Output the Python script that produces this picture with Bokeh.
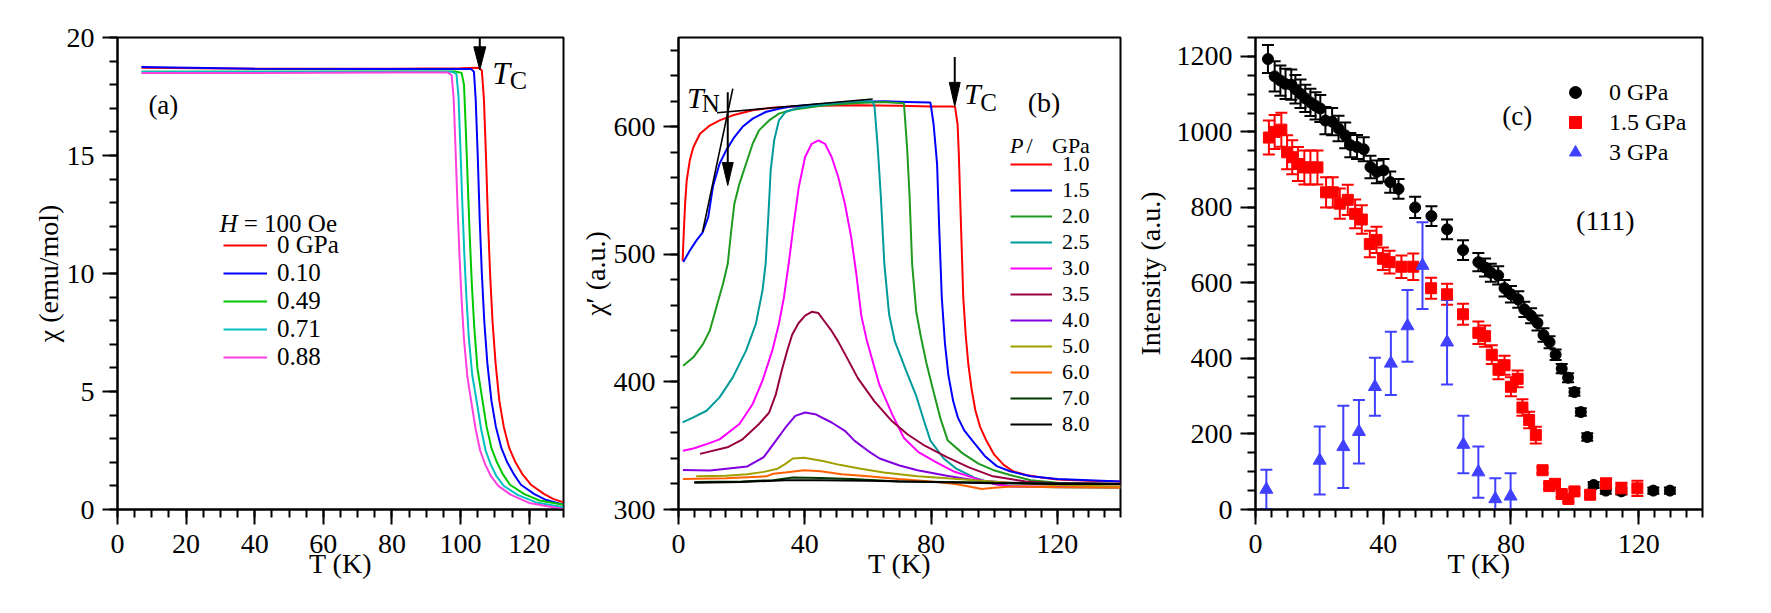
from bokeh.plotting import figure
from bokeh.layouts import row
from bokeh.models import (Range1d, FixedTicker, Label, Legend, LegendItem, Whisker,
                          ColumnDataSource, TeeHead)
from bokeh.embed import file_html
from bokeh.resources import INLINE

FONT = "Liberation Serif"
AXFONT = "Liberation Serif, DejaVu Serif"

a_labels = ["0 GPa", "0.10", "0.49", "0.71", "0.88"]
a_colors = ["#ff0000", "#0000ff", "#00c800", "#00c0c0", "#ff40e0"]
a_T_000 = [7, 40, 80, 100, 105.3, 106.2, 106.8, 107.4, 108.0, 108.6, 109.3, 110.2, 111.3, 112.6, 114.2, 116.0, 118.0, 120.5, 124.4, 127.0, 130.0]
a_chi_000 = [18.72, 18.68, 18.68, 18.70, 18.72, 18.60, 17.40, 15.00, 12.20, 10.00, 8.00, 6.20, 4.60, 3.50, 2.60, 2.00, 1.50, 1.05, 0.65, 0.45, 0.30]
a_T_010 = [7, 40, 80, 100, 103.1, 103.9, 104.4, 105.0, 105.6, 106.2, 106.9, 107.8, 109.0, 110.3, 111.9, 113.6, 115.5, 117.6, 121.5, 125.0, 130.0]
a_chi_010 = [18.75, 18.68, 18.66, 18.66, 18.66, 18.55, 17.40, 15.00, 12.20, 10.00, 8.00, 6.20, 4.60, 3.50, 2.60, 2.00, 1.50, 1.05, 0.65, 0.40, 0.20]
a_T_049 = [7, 40, 80, 98.5, 100.3, 101.0, 101.5, 102.1, 102.7, 103.3, 104.0, 104.9, 106.4, 107.6, 109.0, 110.6, 112.3, 114.4, 118.6, 123.0, 130.0]
a_chi_049 = [18.55, 18.55, 18.56, 18.56, 18.50, 18.00, 16.20, 13.80, 11.50, 9.50, 7.70, 6.00, 4.60, 3.50, 2.60, 2.00, 1.50, 1.05, 0.65, 0.38, 0.20]
a_T_071 = [7, 40, 80, 97.6, 98.8, 99.4, 99.9, 100.5, 101.1, 101.7, 102.4, 103.4, 104.9, 106.0, 107.3, 108.8, 110.5, 112.6, 116.6, 122.0, 130.0]
a_chi_071 = [18.55, 18.55, 18.55, 18.55, 18.45, 17.50, 15.50, 13.00, 10.80, 9.00, 7.30, 5.70, 4.40, 3.40, 2.50, 1.90, 1.40, 1.00, 0.62, 0.30, 0.10]
a_T_088 = [7, 40, 80, 96.2, 97.4, 98.0, 98.5, 99.1, 99.7, 100.3, 101.0, 102.0, 103.3, 104.4, 105.7, 107.2, 108.9, 111.0, 114.7, 120.0, 130.0]
a_chi_088 = [18.50, 18.50, 18.52, 18.52, 18.40, 17.40, 15.40, 12.90, 10.70, 8.90, 7.20, 5.60, 4.40, 3.40, 2.50, 1.90, 1.40, 1.00, 0.62, 0.28, 0.02]
a_xticks = [0, 20, 40, 60, 80, 100, 120]
a_yticks = [0, 5, 10, 15, 20]

b_labels = ["1.0", "1.5", "2.0", "2.5", "3.0", "3.5", "4.0", "5.0", "6.0", "7.0", "8.0"]
b_colors = ["#ff0000", "#0000ff", "#1e9a1e", "#009a9a", "#ff00ff", "#990040",
            "#8000e0", "#a0a000", "#ff6000", "#003800", "#000000"]
b_T_10 = [1.3, 1.7, 2.1, 2.6, 3.6, 4.7, 6.8, 9.9, 13, 17.2, 23.5, 29.7, 36, 45, 56.8, 70, 80, 86.5, 87.6, 88.4, 88.8, 89.2, 89.7, 90.2, 91.0, 91.8, 92.8, 94.0, 95.5, 97.5, 100, 103, 106, 110, 115, 120, 130, 140]
b_v_10 = [495, 519, 540, 558, 574, 584, 594.6, 601, 605, 609, 613, 615, 616, 616.5, 616.8, 616.5, 616, 616, 615.5, 602, 578, 545, 505, 466, 436, 414, 395, 378, 365, 354, 343, 335, 330, 327, 325, 323.5, 322.5, 322]
b_T_15 = [1.5, 3.6, 5.7, 7.6, 9.4, 10.9, 13, 15.1, 17.7, 20.3, 23.5, 27.6, 31.8, 36, 44.3, 56.8, 65, 72, 79.8, 80.8, 81.9, 82.6, 83.4, 84.4, 85.5, 87, 88.5, 90.5, 93.7, 97, 100.8, 105, 111.6, 120, 130, 140]
b_v_15 = [494, 503, 511, 517, 529, 553, 571, 581.5, 592, 600, 606.4, 611.6, 614.2, 616, 617.6, 619.4, 620, 619.5, 619, 602, 571, 519, 466, 430, 405, 385, 372, 362, 352, 342, 334, 330, 326, 324, 323, 322]
b_T_20 = [1.5, 4.7, 7.8, 9.9, 12, 14.1, 15.6, 16.7, 17.7, 19.3, 21.4, 23.5, 25.5, 28.7, 31.8, 36, 46.4, 56.8, 65, 71.4, 72.4, 73.2, 74, 75.3, 76.8, 78.5, 80.5, 83, 85.3, 90, 95, 99.6, 105, 111.6, 120, 130, 140]
b_v_20 = [412.7, 419.3, 429.8, 440.2, 458.5, 476.9, 492.6, 518.7, 539.7, 555.3, 571, 586.7, 597.2, 605, 610.3, 613.4, 616.8, 618.7, 619.5, 618.5, 584, 545, 492.6, 455, 435, 415, 395, 371, 354, 344, 336, 331, 327, 323, 321, 320.5, 320]
b_T_25 = [1.3, 4.7, 8.9, 13, 17.2, 21.4, 24.5, 26.6, 27.6, 28.5, 29.2, 30.3, 31.8, 33.9, 38.1, 46.4, 56.8, 61.5, 62.1, 63.1, 64.1, 65.2, 66.7, 68.5, 71.9, 75.3, 77.7, 79.8, 84, 88, 93.7, 100, 105.6, 120, 140]
b_v_25 = [368.3, 372.2, 377.4, 387.9, 403.6, 424.5, 445.5, 471.6, 492.6, 531.8, 565.8, 589.4, 605, 611.6, 615, 617.6, 620.2, 620, 615.5, 584, 545, 492.6, 453, 432, 410, 389, 370, 354, 340, 332, 325, 320, 318, 317.5, 317]
b_T_30 = [1.4, 5, 9.8, 13, 19.3, 23.5, 26.6, 29.7, 31.8, 33.4, 34.9, 36.5, 38.1, 40.1, 42.2, 44.3, 46.4, 48.5, 50.6, 52.7, 54.7, 56.3, 57.9, 59.6, 61.3, 63.6, 65.7, 67.8, 71.4, 76, 81.7, 87, 93.7, 100, 105.6, 120, 140]
b_v_30 = [346, 348, 352, 355, 367, 382.7, 401, 424.5, 445.5, 466.4, 492.6, 524, 552.7, 576.3, 586.7, 589.4, 586.7, 576.3, 560.6, 539.7, 513.5, 485, 452, 433, 418, 398, 386, 374, 356, 345, 337, 330, 324.6, 320, 318, 318, 318]
b_T_35 = [6.8, 15.8, 20.3, 25.5, 28.7, 30.8, 32.8, 34.5, 36, 38, 40.1, 42.2, 44.3, 46.4, 48.5, 50.5, 52.7, 56.8, 62, 67.3, 72.5, 78, 85, 92, 99.6, 110, 120, 140]
b_v_35 = [343.6, 349, 355, 367, 376, 390, 410, 425, 437, 446, 452, 455, 454, 447, 440, 432, 422, 403, 385, 370, 359, 350, 341, 333, 326, 322, 320.5, 320]
b_T_40 = [1.4, 10, 21.8, 27, 30.8, 33.9, 37, 40.1, 43.3, 48.5, 52.7, 55.8, 60, 63.7, 70, 75.7, 85, 93.7, 105, 120, 140]
b_v_40 = [331, 330.5, 333.8, 341, 353.8, 364.3, 373.4, 376, 374.7, 368.2, 361.7, 353.8, 346, 340, 334.5, 330.7, 326.5, 323, 321, 320.5, 320]
b_T_50 = [5.6, 15, 21.8, 27, 31.4, 34, 36.2, 39.8, 45.7, 51, 57.7, 65, 75.7, 85, 93.7, 105, 120, 140]
b_v_50 = [326, 326.5, 327.6, 329.5, 332, 336, 340, 340.5, 338, 335, 332, 329, 326, 324.5, 323, 321, 319, 318]
b_T_60 = [1.4, 15, 27.8, 30, 33.8, 39.8, 45, 51.7, 60, 69.7, 80, 87.7, 92, 96, 100, 105.6, 120, 140]
b_v_60 = [324, 324.5, 326, 328, 329, 330.7, 330, 327.6, 326, 324, 322, 320, 318, 316, 317, 318, 317.5, 317]
b_T_70 = [5, 20, 30, 36.2, 45, 55, 69.7, 85, 100, 120, 140]
b_v_70 = [321.5, 322, 323, 325, 324.6, 324, 322, 321.5, 320.9, 320.5, 320]
b_T_80 = [5, 20, 33.8, 45, 60, 80, 100, 120, 140]
b_v_80 = [321, 321.5, 323, 323, 322.5, 321.5, 320.5, 320, 320]
b_xticks = [0, 40, 80, 120]
b_yticks = [300, 400, 500, 600]

c_labels = ["0 GPa", "1.5 GPa", "3 GPa"]
c_T_0 = [3.9, 6.0, 7.8, 9.4, 11.2, 12.5, 14.1, 15.6, 17.2, 18.8, 20.3, 21.9, 24.0, 26.0, 28.1, 29.7, 31.8, 33.9, 36.0, 38.0, 40.1, 42.2, 44.8, 50.0, 55.1, 60.0, 65.0, 69.8, 71.9, 73.7, 76.0, 78.0, 80.0, 82.3, 84.2, 86.3, 88.3, 90.2, 92.1, 94.0, 95.9, 97.9, 99.9, 101.9, 103.9, 105.9, 109.7, 114.6, 124.6, 129.8]
c_I_0 = [1193, 1147, 1136, 1127, 1125, 1113, 1101, 1089, 1078, 1069, 1062, 1030, 1027, 1009, 991, 965, 960, 954, 907, 894, 898, 867, 849, 800, 777, 742, 687, 655, 641, 627, 620, 586, 570, 556, 530, 513, 494, 462, 443, 410, 373, 349, 311, 258, 192, 65, 50, 48, 50, 50]
c_err_0 = [37, 40, 40, 40, 40, 38, 38, 36, 36, 36, 36, 36, 36, 34, 34, 32, 32, 32, 30, 30, 30, 28, 26, 28, 26, 26, 26, 24, 24, 24, 24, 22, 22, 22, 20, 20, 20, 18, 16, 14, 12, 12, 10, 10, 10, 8, 8, 8, 8, 8]
c_T_15 = [4.2, 6.0, 8.1, 9.9, 11.5, 13.3, 15.3, 17.2, 19.4, 22.1, 24.2, 26.4, 28.9, 31.2, 33.3, 35.8, 37.9, 39.9, 42.0, 45.7, 49.4, 55.0, 60.0, 65.0, 69.8, 71.9, 74.0, 76.1, 78.0, 80.0, 82.1, 83.6, 85.7, 87.8, 89.9, 92.0, 93.8, 95.9, 98.0, 99.9, 104.8, 109.8, 114.6, 119.6]
c_I_15 = [985, 1000, 1006, 946, 933, 915, 906, 906, 906, 840, 840, 810, 820, 783, 768, 703, 714, 664, 655, 643, 643, 586, 570, 517, 468, 459, 410, 370, 382, 325, 346, 270, 237, 197, 104, 62, 68, 41, 28, 48, 39, 68, 56, 56]
c_err_15 = [45, 45, 45, 45, 45, 45, 45, 45, 45, 40, 40, 40, 40, 38, 38, 35, 35, 30, 30, 30, 35, 28, 28, 28, 30, 28, 25, 25, 25, 25, 22, 22, 22, 22, 8, 8, 8, 8, 8, 8, 8, 15, 15, 20]
c_T_3 = [3.4, 20.1, 27.5, 32.4, 37.4, 42.4, 47.6, 52.3, 60.0, 65.1, 69.8, 75.1, 79.9]
c_I_3 = [53, 130, 166, 206, 325, 387, 486, 646, 443, 172, 99, 28, 35]
c_err_3 = [52, 90, 109, 84, 77, 84, 95, 115, 112, 76, 68, 55, 61]
c_xticks = [0, 40, 80, 120]
c_yticks = [0, 200, 400, 600, 800, 1000, 1200]

H = 613
TOP, BOTTOM = 37, 104


def style(p, xt, xminor, yt, yminor, ylabel, ystand):
    p.xgrid.visible = False
    p.ygrid.visible = False
    p.outline_line_color = "black"
    p.outline_line_width = 2
    p.outline_line_alpha = 1
    p.background_fill_color = "white"
    p.border_fill_color = "white"
    p.xaxis[0].ticker = FixedTicker(ticks=xt, minor_ticks=xminor)
    p.yaxis[0].ticker = FixedTicker(ticks=yt, minor_ticks=yminor)
    for ax in (p.xaxis[0], p.yaxis[0]):
        ax.major_label_text_font = AXFONT
        ax.major_label_text_font_style = "normal"
        ax.major_label_text_font_size = "28px"
        ax.major_label_text_color = "black"
        ax.axis_line_width = 2
        ax.axis_line_color = "black"
        ax.major_tick_line_width = 2
        ax.minor_tick_line_width = 2
        ax.major_tick_line_color = "black"
        ax.minor_tick_line_color = "black"
        ax.major_tick_out = 15
        ax.major_tick_in = 0
        ax.minor_tick_out = 8
        ax.minor_tick_in = 0
        ax.axis_label_text_font = AXFONT
        ax.axis_label_text_font_size = "28px"
        ax.axis_label_text_font_style = "normal"
        ax.axis_label_text_color = "black"
    p.xaxis[0].major_label_standoff = 10
    p.yaxis[0].major_label_standoff = 8
    p.xaxis[0].axis_label = "T (K)"
    p.xaxis[0].axis_label_standoff = -8
    p.yaxis[0].axis_label = ylabel
    p.yaxis[0].axis_label_standoff = ystand


def lab(p, x, y, text, size, style="normal", align="left", baseline="alphabetic"):
    p.add_layout(Label(x=x, y=y, text=text, text_font=FONT, text_font_size=f"{size}px",
                       text_font_style=style, text_align=align, text_baseline=baseline,
                       text_color="black"))


def down_arrow(p, x, y_top, y_tip, pxx, pxy, hlen=23, hwid=11):
    hl = hlen / pxy
    hw = hwid / 2 / pxx
    p.line([x, x], [y_top, y_tip + hl * 0.5], line_color="black", line_width=2)
    p.patch([x - hw, x + hw, x], [y_tip + hl, y_tip + hl, y_tip], color="black")


def make_legend(p, items, loc, size, gw, gh, standoff):
    lg = Legend(items=items, location=loc, label_text_font=AXFONT, label_text_font_style="normal",
                label_text_font_size=f"{size}px", label_text_color="black",
                glyph_width=gw, glyph_height=gh, label_height=gh, spacing=0,
                padding=0, margin=0, label_standoff=standoff,
                background_fill_alpha=0, border_line_alpha=0)
    p.add_layout(lg)


# ---------------- Panel (a) ----------------
WA, LA, RA = 576, 117, 13
pa = figure(width=WA, height=H, x_range=Range1d(0, 130), y_range=Range1d(0, 20),
            output_backend="svg", toolbar_location=None,
            min_border_left=LA, min_border_right=RA, min_border_top=TOP, min_border_bottom=BOTTOM)
style(pa, a_xticks, list(range(0, 131, 5)), a_yticks, list(range(0, 21)), "χ (emu/mol)", 0)
pxa = (WA - LA - RA) / 130.0
pya = (H - TOP - BOTTOM) / 20.0
a_series = [(a_T_000, a_chi_000), (a_T_010, a_chi_010), (a_T_049, a_chi_049),
            (a_T_071, a_chi_071), (a_T_088, a_chi_088)]
a_items = []
for (tx, ty), c, name in zip(a_series, a_colors, a_labels):
    r = pa.line(tx, ty, line_color=c, line_width=2)
    a_items.append(LegendItem(label=name, renderers=[r]))
make_legend(pa, a_items, (106, 138), 25, 44, 28, 10)
lab(pa, 29.7, 12.12, "H", 25, "italic")
lab(pa, 36.8, 12.12, "= 100 Oe", 25)
lab(pa, 9.0, 17.16, "(a)", 27, baseline="middle")
down_arrow(pa, 105.6, 20.0, 18.63, pxa, pya, 23, 12)
lab(pa, 109.2, 18.5, "T", 32, "italic")
lab(pa, 114.3, 18.17, "C", 26)

# ---------------- Panel (b) ----------------
WB, LB, RB = 555, 97, 11
pb = figure(width=WB, height=H, x_range=Range1d(0, 140), y_range=Range1d(300, 670),
            output_backend="svg", toolbar_location=None,
            min_border_left=LB, min_border_right=RB, min_border_top=TOP, min_border_bottom=BOTTOM)
style(pb, b_xticks, list(range(0, 141, 5)), b_yticks, list(range(300, 661, 20)), "χ′ (a.u.)", 0)
pxb = (WB - LB - RB) / 140.0
pyb = (H - TOP - BOTTOM) / 370.0
b_series = [(b_T_10, b_v_10), (b_T_15, b_v_15), (b_T_20, b_v_20), (b_T_25, b_v_25),
            (b_T_30, b_v_30), (b_T_35, b_v_35), (b_T_40, b_v_40), (b_T_50, b_v_50),
            (b_T_60, b_v_60), (b_T_70, b_v_70), (b_T_80, b_v_80)]
b_items = []
for (tx, ty), c, name in zip(b_series, b_colors, b_labels):
    r = pb.line(tx, ty, line_color=c, line_width=2)
    b_items.append(LegendItem(label=name, renderers=[r]))
make_legend(pb, b_items, (332, 72), 22, 42, 26, 10)
pb.line([7.6, 17.2], [517.4, 629.9], line_color="black", line_width=1.6)
pb.line([12.2, 61.5], [611.0, 621.8], line_color="black", line_width=1.6)
down_arrow(pb, 15.6, 627.0, 554.0, pxb, pyb, 23, 11)
down_arrow(pb, 87.5, 654.7, 616.0, pxb, pyb, 24, 11)
lab(pb, 2.7, 623.2, "T", 30, "italic")
lab(pb, 7.4, 618.5, "N", 25)
lab(pb, 90.4, 625.9, "T", 30, "italic")
lab(pb, 95.6, 619.3, "C", 25)
lab(pb, 110.6, 619.3, "(b)", 28, baseline="middle")
lab(pb, 105.0, 585.3, "P", 22, "italic")
lab(pb, 110.2, 585.3, "/", 22)
lab(pb, 118.3, 585.3, "GPa", 22)

# ---------------- Panel (c) ----------------
WC, LC, RC = 640, 124, 69
pc = figure(width=WC, height=H, x_range=Range1d(0, 140), y_range=Range1d(0, 1250),
            output_backend="svg", toolbar_location=None,
            min_border_left=LC, min_border_right=RC, min_border_top=TOP, min_border_bottom=BOTTOM)
style(pc, c_xticks, list(range(0, 141, 5)), c_yticks, list(range(0, 1251, 50)), "Intensity (a.u.)", 8)

c_specs = [
    (c_T_0, c_I_0, c_err_0, "circle", 11, "#000000"),
    (c_T_15, c_I_15, c_err_15, "square", 11, "#ff0000"),
    (c_T_3, c_I_3, c_err_3, "triangle", 13, "#4040ff"),
]
c_items = []
for (tx, iy, er, mk, sz, col), name in zip(c_specs, c_labels):
    src = ColumnDataSource(dict(T=tx, I=iy,
                                up=[v + e for v, e in zip(iy, er)],
                                lo=[v - e for v, e in zip(iy, er)]))
    w = Whisker(source=src, base="T", upper="up", lower="lo", line_color=col, line_width=2,
                upper_head=TeeHead(size=12, line_color=col, line_width=2),
                lower_head=TeeHead(size=12, line_color=col, line_width=2))
    pc.add_layout(w)
    r = pc.scatter("T", "I", source=src, marker=mk, size=sz, fill_color=col, line_color=col)
    c_items.append(LegendItem(label=name, renderers=[r]))
make_legend(pc, c_items, (305, 342), 24, 30, 30, 19)
lab(pc, 77.3, 1040.8, "(c)", 27, baseline="middle")
lab(pc, 100.4, 765.4, "(111)", 28, baseline="middle")

layout = row(pa, pb, pc)
open("out.html", "w").write(file_html(layout, INLINE))
